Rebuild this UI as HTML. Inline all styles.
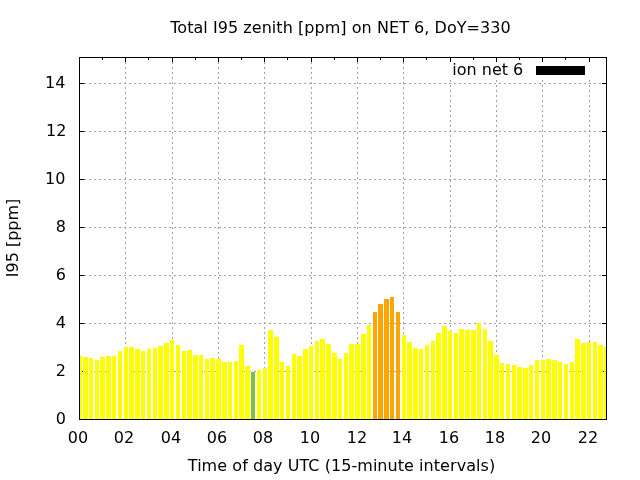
<!DOCTYPE html>
<html><head><meta charset="utf-8"><title>Total I95 zenith [ppm] on NET 6, DoY=330</title>
<style>html,body{margin:0;padding:0;background:#fff;overflow:hidden}svg{display:block;will-change:transform}text{filter:grayscale(1)}text{font-family:"DejaVu Sans","Liberation Sans",sans-serif;font-size:16px;fill:#000}</style></head><body>
<svg width="640" height="480" viewBox="0 0 640 480">
<rect x="0" y="0" width="640" height="480" fill="#fff"/>
<g shape-rendering="crispEdges" stroke="#a0a0a0" stroke-width="1" stroke-dasharray="2 3" fill="none">
<line x1="125.5" y1="57" x2="125.5" y2="420"/>
<line x1="172.5" y1="57" x2="172.5" y2="420"/>
<line x1="218.5" y1="57" x2="218.5" y2="420"/>
<line x1="264.5" y1="57" x2="264.5" y2="420"/>
<line x1="311.5" y1="57" x2="311.5" y2="420"/>
<line x1="357.5" y1="57" x2="357.5" y2="420"/>
<line x1="403.5" y1="57" x2="403.5" y2="420"/>
<line x1="450.5" y1="80" x2="450.5" y2="420"/>
<line x1="496.5" y1="80" x2="496.5" y2="420"/>
<line x1="542.5" y1="80" x2="542.5" y2="420"/>
<line x1="589.5" y1="80" x2="589.5" y2="420"/>
<line x1="79" y1="371.5" x2="607" y2="371.5"/>
<line x1="79" y1="323.5" x2="607" y2="323.5"/>
<line x1="79" y1="275.5" x2="607" y2="275.5"/>
<line x1="79" y1="227.5" x2="607" y2="227.5"/>
<line x1="79" y1="179.5" x2="607" y2="179.5"/>
<line x1="79" y1="131.5" x2="607" y2="131.5"/>
<line x1="79" y1="83.5" x2="607" y2="83.5"/>
</g>
<g shape-rendering="crispEdges" fill="#000">
<rect x="79" y="58" width="1" height="4"/>
<rect x="79" y="415" width="1" height="4"/>
<rect x="102" y="58" width="1" height="2"/>
<rect x="102" y="417" width="1" height="2"/>
<rect x="125" y="58" width="1" height="4"/>
<rect x="125" y="415" width="1" height="4"/>
<rect x="148" y="58" width="1" height="2"/>
<rect x="148" y="417" width="1" height="2"/>
<rect x="172" y="58" width="1" height="4"/>
<rect x="172" y="415" width="1" height="4"/>
<rect x="195" y="58" width="1" height="2"/>
<rect x="195" y="417" width="1" height="2"/>
<rect x="218" y="58" width="1" height="4"/>
<rect x="218" y="415" width="1" height="4"/>
<rect x="241" y="58" width="1" height="2"/>
<rect x="241" y="417" width="1" height="2"/>
<rect x="264" y="58" width="1" height="4"/>
<rect x="264" y="415" width="1" height="4"/>
<rect x="287" y="58" width="1" height="2"/>
<rect x="287" y="417" width="1" height="2"/>
<rect x="311" y="58" width="1" height="4"/>
<rect x="311" y="415" width="1" height="4"/>
<rect x="334" y="58" width="1" height="2"/>
<rect x="334" y="417" width="1" height="2"/>
<rect x="357" y="58" width="1" height="4"/>
<rect x="357" y="415" width="1" height="4"/>
<rect x="380" y="58" width="1" height="2"/>
<rect x="380" y="417" width="1" height="2"/>
<rect x="403" y="58" width="1" height="4"/>
<rect x="403" y="415" width="1" height="4"/>
<rect x="426" y="58" width="1" height="2"/>
<rect x="426" y="417" width="1" height="2"/>
<rect x="450" y="58" width="1" height="4"/>
<rect x="450" y="415" width="1" height="4"/>
<rect x="473" y="58" width="1" height="2"/>
<rect x="473" y="417" width="1" height="2"/>
<rect x="496" y="58" width="1" height="4"/>
<rect x="496" y="415" width="1" height="4"/>
<rect x="519" y="58" width="1" height="2"/>
<rect x="519" y="417" width="1" height="2"/>
<rect x="542" y="58" width="1" height="4"/>
<rect x="542" y="415" width="1" height="4"/>
<rect x="565" y="58" width="1" height="2"/>
<rect x="565" y="417" width="1" height="2"/>
<rect x="589" y="58" width="1" height="4"/>
<rect x="589" y="415" width="1" height="4"/>
<rect x="80" y="419" width="4" height="1"/>
<rect x="602" y="419" width="4" height="1"/>
<rect x="80" y="371" width="4" height="1"/>
<rect x="602" y="371" width="4" height="1"/>
<rect x="80" y="323" width="4" height="1"/>
<rect x="602" y="323" width="4" height="1"/>
<rect x="80" y="275" width="4" height="1"/>
<rect x="602" y="275" width="4" height="1"/>
<rect x="80" y="227" width="4" height="1"/>
<rect x="602" y="227" width="4" height="1"/>
<rect x="80" y="179" width="4" height="1"/>
<rect x="602" y="179" width="4" height="1"/>
<rect x="80" y="131" width="4" height="1"/>
<rect x="602" y="131" width="4" height="1"/>
<rect x="80" y="83" width="4" height="1"/>
<rect x="602" y="83" width="4" height="1"/>
</g>
<g shape-rendering="crispEdges">
<rect x="80" y="356" width="2" height="63" fill="#ffff00"/>
<rect x="83" y="357" width="5" height="62" fill="#ffff00"/>
<rect x="89" y="358" width="4" height="61" fill="#ffff00"/>
<rect x="95" y="360" width="4" height="59" fill="#ffff00"/>
<rect x="100" y="357" width="5" height="62" fill="#ffff00"/>
<rect x="106" y="356" width="5" height="63" fill="#ffff00"/>
<rect x="112" y="356" width="4" height="63" fill="#ffff00"/>
<rect x="118" y="351" width="4" height="68" fill="#ffff00"/>
<rect x="124" y="347" width="4" height="72" fill="#ffff00"/>
<rect x="129" y="347" width="5" height="72" fill="#ffff00"/>
<rect x="135" y="349" width="5" height="70" fill="#ffff00"/>
<rect x="141" y="351" width="4" height="68" fill="#ffff00"/>
<rect x="147" y="349" width="4" height="70" fill="#ffff00"/>
<rect x="153" y="348" width="4" height="71" fill="#ffff00"/>
<rect x="158" y="346" width="5" height="73" fill="#ffff00"/>
<rect x="164" y="343" width="5" height="76" fill="#ffff00"/>
<rect x="170" y="340" width="4" height="79" fill="#ffff00"/>
<rect x="176" y="345" width="4" height="74" fill="#ffff00"/>
<rect x="182" y="351" width="4" height="68" fill="#ffff00"/>
<rect x="187" y="350" width="5" height="69" fill="#ffff00"/>
<rect x="193" y="355" width="5" height="64" fill="#ffff00"/>
<rect x="199" y="355" width="4" height="64" fill="#ffff00"/>
<rect x="205" y="359" width="4" height="60" fill="#ffff00"/>
<rect x="210" y="358" width="5" height="61" fill="#ffff00"/>
<rect x="216" y="359" width="5" height="60" fill="#ffff00"/>
<rect x="222" y="362" width="5" height="57" fill="#ffff00"/>
<rect x="228" y="362" width="4" height="57" fill="#ffff00"/>
<rect x="234" y="361" width="4" height="58" fill="#ffff00"/>
<rect x="239" y="345" width="5" height="74" fill="#ffff00"/>
<rect x="245" y="366" width="5" height="53" fill="#ffff00"/>
<rect x="251" y="372" width="4" height="47" fill="#7dc142"/>
<rect x="257" y="370" width="4" height="49" fill="#ffff00"/>
<rect x="263" y="368" width="4" height="51" fill="#ffff00"/>
<rect x="268" y="330" width="5" height="89" fill="#ffff00"/>
<rect x="274" y="337" width="5" height="82" fill="#ffff00"/>
<rect x="280" y="362" width="4" height="57" fill="#ffff00"/>
<rect x="286" y="366" width="4" height="53" fill="#ffff00"/>
<rect x="292" y="354" width="4" height="65" fill="#ffff00"/>
<rect x="297" y="356" width="5" height="63" fill="#ffff00"/>
<rect x="303" y="349" width="5" height="70" fill="#ffff00"/>
<rect x="309" y="346" width="4" height="73" fill="#ffff00"/>
<rect x="315" y="341" width="4" height="78" fill="#ffff00"/>
<rect x="320" y="339" width="5" height="80" fill="#ffff00"/>
<rect x="326" y="344" width="5" height="75" fill="#ffff00"/>
<rect x="332" y="353" width="5" height="66" fill="#ffff00"/>
<rect x="338" y="359" width="4" height="60" fill="#ffff00"/>
<rect x="344" y="353" width="4" height="66" fill="#ffff00"/>
<rect x="349" y="344" width="5" height="75" fill="#ffff00"/>
<rect x="355" y="344" width="5" height="75" fill="#ffff00"/>
<rect x="361" y="334" width="5" height="85" fill="#ffff00"/>
<rect x="367" y="325" width="4" height="94" fill="#ffff00"/>
<rect x="373" y="312" width="4" height="107" fill="#ffa500"/>
<rect x="378" y="304" width="5" height="115" fill="#ffa500"/>
<rect x="384" y="299" width="5" height="120" fill="#ffa500"/>
<rect x="390" y="297" width="4" height="122" fill="#ffa500"/>
<rect x="396" y="312" width="4" height="107" fill="#ffa500"/>
<rect x="402" y="335" width="4" height="84" fill="#ffff00"/>
<rect x="407" y="342" width="5" height="77" fill="#ffff00"/>
<rect x="413" y="348" width="5" height="71" fill="#ffff00"/>
<rect x="419" y="349" width="4" height="70" fill="#ffff00"/>
<rect x="425" y="345" width="4" height="74" fill="#ffff00"/>
<rect x="431" y="341" width="4" height="78" fill="#ffff00"/>
<rect x="436" y="333" width="5" height="86" fill="#ffff00"/>
<rect x="442" y="326" width="5" height="93" fill="#ffff00"/>
<rect x="448" y="331" width="4" height="88" fill="#ffff00"/>
<rect x="454" y="333" width="4" height="86" fill="#ffff00"/>
<rect x="459" y="329" width="5" height="90" fill="#ffff00"/>
<rect x="465" y="330" width="5" height="89" fill="#ffff00"/>
<rect x="471" y="330" width="5" height="89" fill="#ffff00"/>
<rect x="477" y="323" width="4" height="96" fill="#ffff00"/>
<rect x="483" y="329" width="4" height="90" fill="#ffff00"/>
<rect x="488" y="341" width="5" height="78" fill="#ffff00"/>
<rect x="494" y="355" width="5" height="64" fill="#ffff00"/>
<rect x="500" y="363" width="4" height="56" fill="#ffff00"/>
<rect x="506" y="364" width="4" height="55" fill="#ffff00"/>
<rect x="512" y="365" width="4" height="54" fill="#ffff00"/>
<rect x="517" y="367" width="5" height="52" fill="#ffff00"/>
<rect x="523" y="368" width="5" height="51" fill="#ffff00"/>
<rect x="529" y="365" width="4" height="54" fill="#ffff00"/>
<rect x="535" y="360" width="4" height="59" fill="#ffff00"/>
<rect x="541" y="360" width="4" height="59" fill="#ffff00"/>
<rect x="546" y="359" width="5" height="60" fill="#ffff00"/>
<rect x="552" y="360" width="5" height="59" fill="#ffff00"/>
<rect x="558" y="362" width="4" height="57" fill="#ffff00"/>
<rect x="564" y="364" width="4" height="55" fill="#ffff00"/>
<rect x="570" y="362" width="4" height="57" fill="#ffff00"/>
<rect x="575" y="339" width="5" height="80" fill="#ffff00"/>
<rect x="581" y="343" width="5" height="76" fill="#ffff00"/>
<rect x="587" y="342" width="4" height="77" fill="#ffff00"/>
<rect x="593" y="342" width="4" height="77" fill="#ffff00"/>
<rect x="598" y="345" width="5" height="74" fill="#ffff00"/>
<rect x="604" y="347" width="2" height="72" fill="#ffff00"/>
</g>
<rect x="79.5" y="57.5" width="527" height="362" fill="none" stroke="#000" stroke-width="1" shape-rendering="crispEdges"/>
<rect x="536" y="66" width="49" height="9" fill="#000" shape-rendering="crispEdges"/>
<text x="523.3" y="75" text-anchor="end">ion net 6</text>
<text x="340.5" y="33" text-anchor="middle" letter-spacing="0.05">Total I95 zenith [ppm] on NET 6, DoY=330</text>
<text x="341.5" y="471" text-anchor="middle" letter-spacing="0.05">Time of day UTC (15-minute intervals)</text>
<text transform="translate(18,238) rotate(-90)" text-anchor="middle">I95 [ppm]</text>
<text x="66" y="424" text-anchor="end">0</text>
<text x="66" y="376" text-anchor="end">2</text>
<text x="66" y="328" text-anchor="end">4</text>
<text x="66" y="280" text-anchor="end">6</text>
<text x="66" y="232" text-anchor="end">8</text>
<text x="65.4" y="184" text-anchor="end">10</text>
<text x="66.4" y="136" text-anchor="end">12</text>
<text x="65.4" y="88" text-anchor="end">14</text>
<text x="78" y="443" text-anchor="middle">00</text>
<text x="124" y="443" text-anchor="middle">02</text>
<text x="171" y="443" text-anchor="middle">04</text>
<text x="217" y="443" text-anchor="middle">06</text>
<text x="263" y="443" text-anchor="middle">08</text>
<text x="310" y="443" text-anchor="middle">10</text>
<text x="357" y="443" text-anchor="middle">12</text>
<text x="402" y="443" text-anchor="middle">14</text>
<text x="449" y="443" text-anchor="middle">16</text>
<text x="495" y="443" text-anchor="middle">18</text>
<text x="541" y="443" text-anchor="middle">20</text>
<text x="588" y="443" text-anchor="middle">22</text>
</svg></body></html>
